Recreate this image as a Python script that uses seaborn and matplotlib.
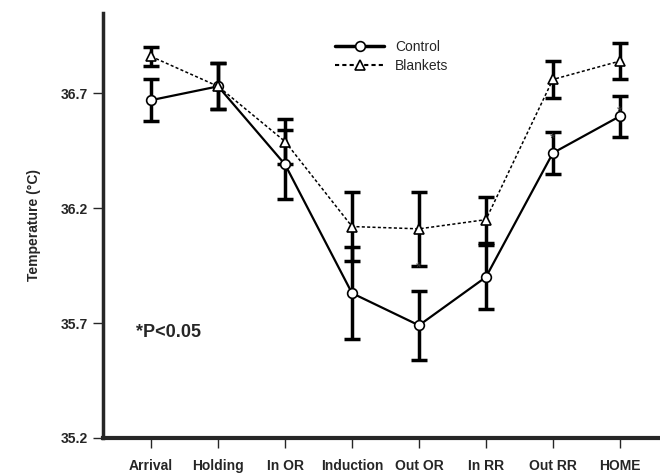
import matplotlib
matplotlib.use('Agg')
import matplotlib.pyplot as plt
import numpy as np
import pandas as pd
import seaborn as sns

stages = ['Arrival', 'Holding', 'In OR', 'Induction', 'Out OR', 'In RR', 'Out RR', 'HOME']
control_mean = [36.67, 36.73, 36.39, 35.83, 35.69, 35.90, 36.44, 36.60]
control_err = [0.09, 0.10, 0.15, 0.20, 0.15, 0.14, 0.09, 0.09]
blanket_mean = [36.86, 36.73, 36.49, 36.12, 36.11, 36.15, 36.76, 36.84]
blanket_err = [0.04, 0.10, 0.10, 0.15, 0.16, 0.10, 0.08, 0.08]
star_stages = ['Out OR', 'Out RR', 'HOME']
star_y = [35.94, 36.50, 36.62]

sns.set_style('ticks')
plt.rcParams['font.family'] = ['Liberation Sans', 'DejaVu Sans']

df = pd.DataFrame({
    'stage': stages * 2,
    'temp': control_mean + blanket_mean,
    'err': control_err + blanket_err,
    'group': ['Control'] * len(stages) + ['Blankets'] * len(stages),
})

fig = plt.figure(figsize=(6.6, 4.75), dpi=100)
ax = fig.add_axes([0.156, 0.078, 0.844, 0.895])

sns.lineplot(data=df, x='stage', y='temp', style='group', markers={'Control': 'o', 'Blankets': '^'},
             dashes={'Control': '', 'Blankets': (2, 1.5)}, color='black', sort=False,
             markerfacecolor='white', markeredgecolor='black', markersize=7, markeredgewidth=1.2,
             ax=ax, legend='full')
for line, lw in zip(ax.lines[:2], [1.6, 1.1]):
    line.set_linewidth(lw)

xpos = np.arange(len(stages))
ax.errorbar(xpos, control_mean, yerr=control_err, fmt='none', ecolor='black', elinewidth=2.5, capsize=6, capthick=2.5, zorder=1)
ax.errorbar(xpos, blanket_mean, yerr=blanket_err, fmt='none', ecolor='black', elinewidth=2.5, capsize=6, capthick=2.5, zorder=1)

for s, y in zip(star_stages, star_y):
    ax.text(stages.index(s), y, '*', ha='center', va='center', fontsize=10, color='#333333')

ax.text(-0.22, 35.66, '*P<0.05', fontsize=13, fontweight='bold', va='center', ha='left')

ax.set_ylim(35.2, 37.05)
ax.set_xlim(-0.72, 7.6)
ax.set_yticks([35.2, 35.7, 36.2, 36.7])
ax.set_yticklabels(['35.2', '35.7', '36.2', '36.7'], fontsize=10, fontweight='bold')
ax.set_xticks(xpos)
ax.set_xticklabels(stages, fontsize=10, fontweight='bold')
ax.set_xlabel('')
ax.set_ylabel('Temperature (°C)', fontsize=10, fontweight='bold', labelpad=14)

sns.despine(ax=ax)
ax.spines['left'].set_linewidth(2.5)
ax.spines['bottom'].set_linewidth(3)
ax.tick_params(axis='y', length=7, width=1, direction='out', pad=4)
ax.tick_params(axis='x', length=7, width=1, direction='out', pad=8)

leg = ax.legend(loc='upper left', frameon=False, fontsize=10,
                handlelength=3.5, labelspacing=0.35, handletextpad=0.8)
leg.set_bbox_to_anchor((0.395, 0.965), transform=ax.transAxes)
for h in leg.get_lines()[:1]:
    h.set_linewidth(2.5)

fig.savefig('out.png', dpi=100)
